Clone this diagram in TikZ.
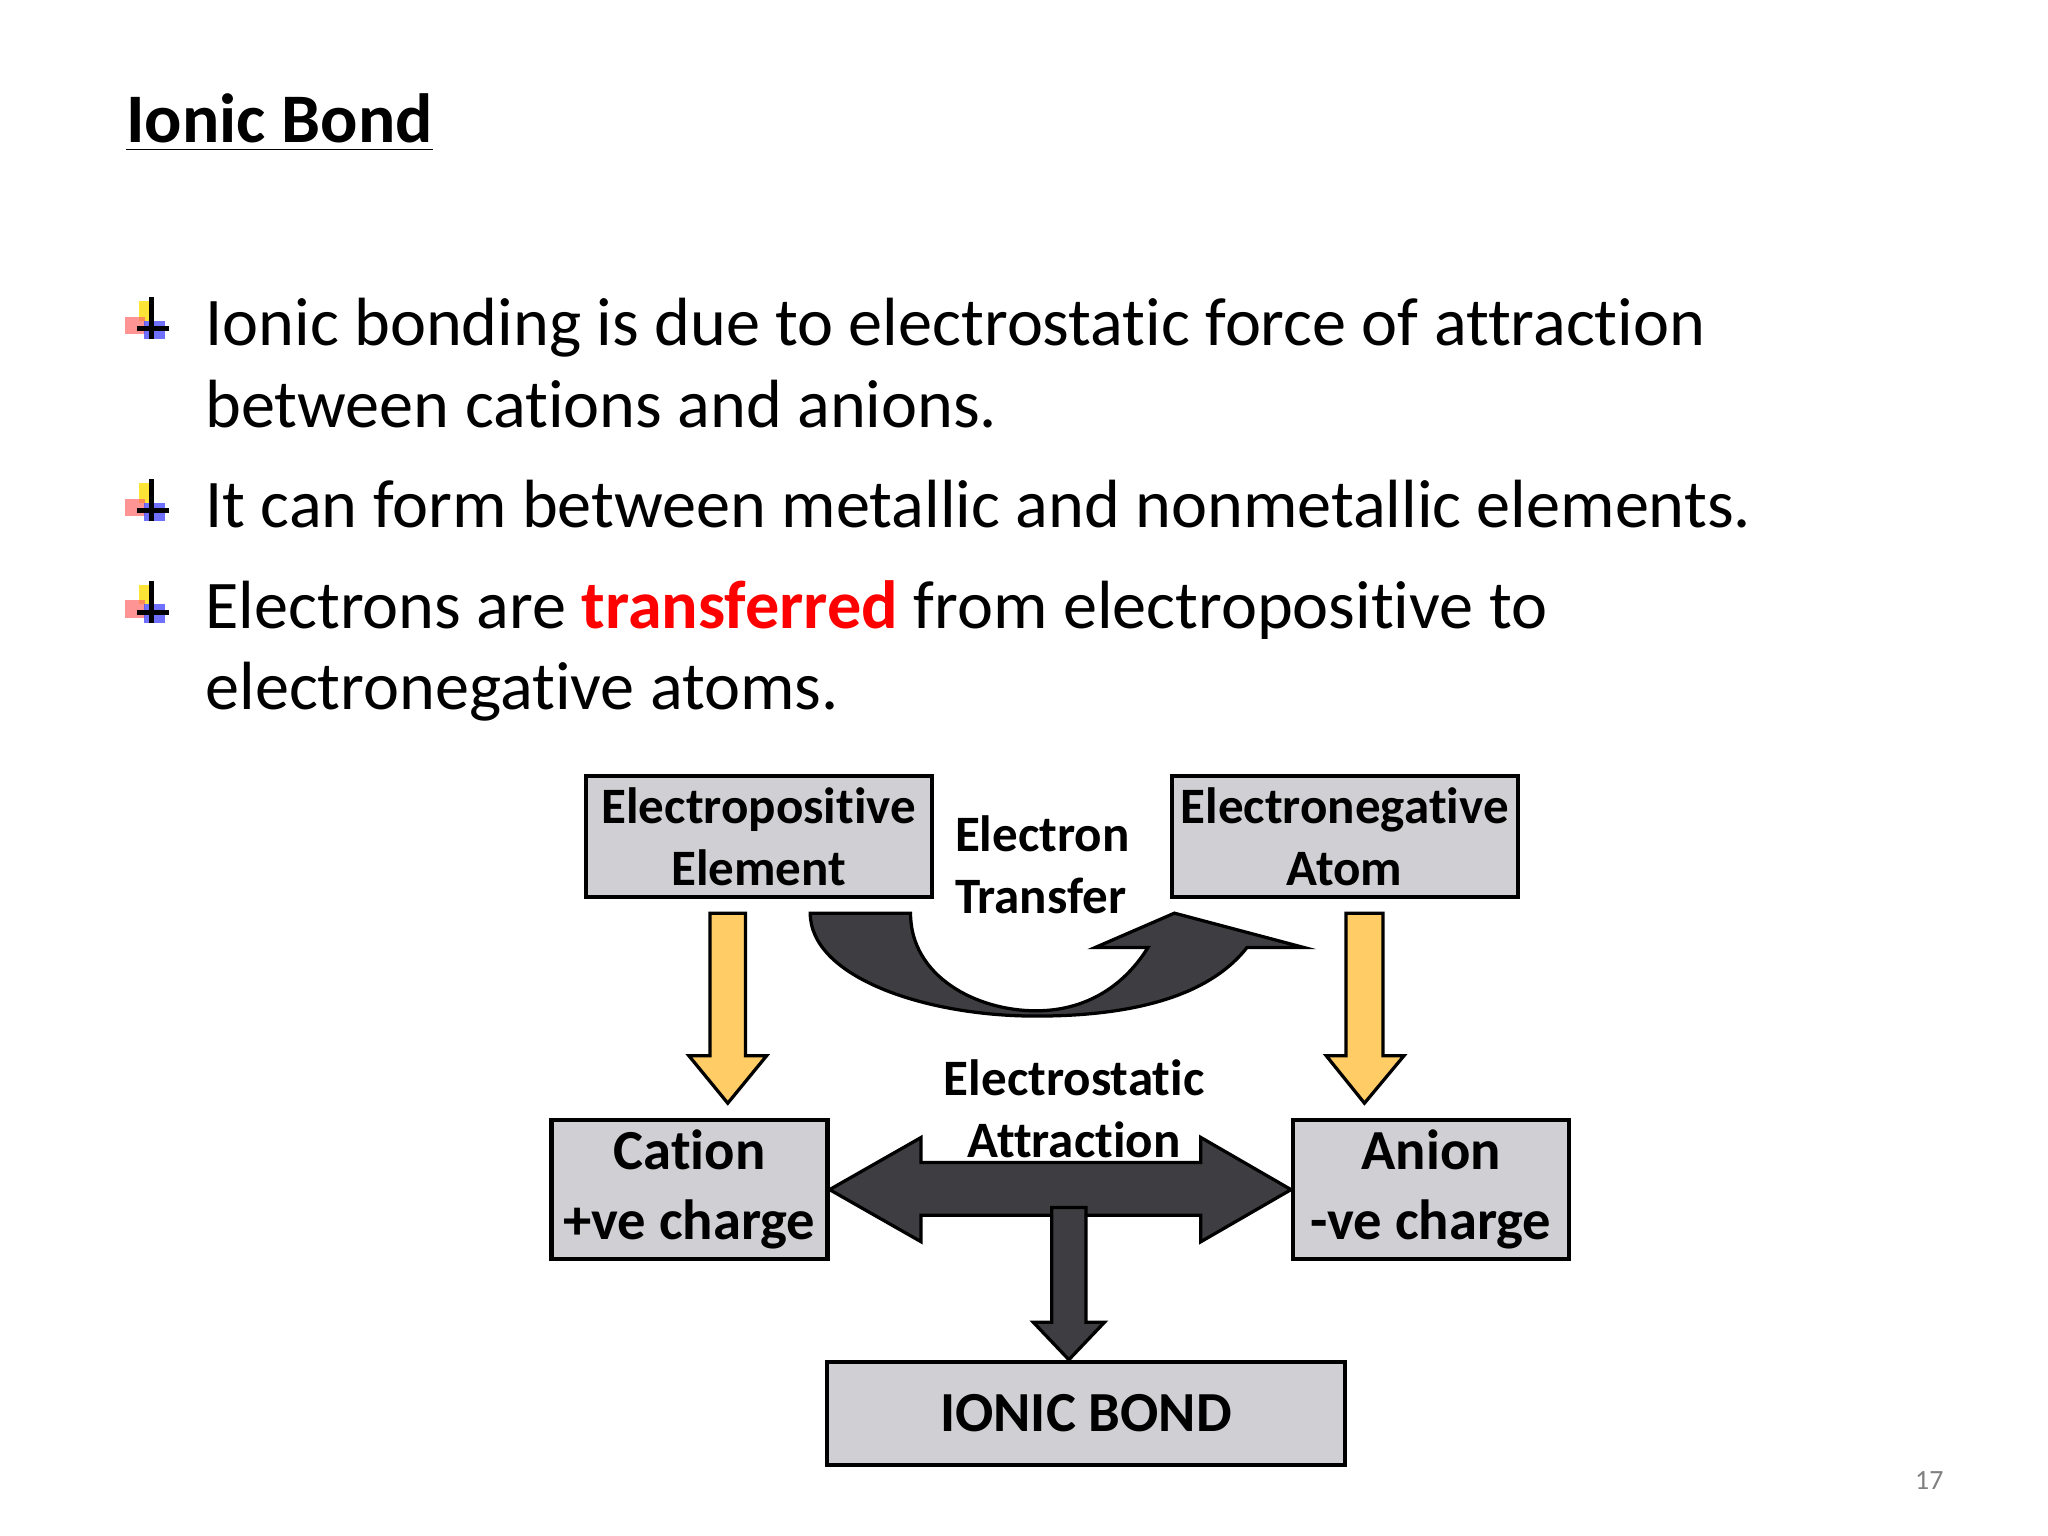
\documentclass[tikz,border=0pt]{standalone}
\usepackage{fontspec}
\setmainfont{Carlito}[RawFeature=-liga]
\begin{document}
\begin{tikzpicture}[x=0.01cm,y=-0.01cm,
 box/.style={draw=black,fill=boxgray,line width=0.9pt,font=\fontsize{11}{13.3}\selectfont\bfseries,align=center,inner sep=0pt},
 yarrow/.style={draw=black,fill=arrowyellow,line width=0.7pt},
 darrow/.style={draw=black,fill=darkarr,line width=0.7pt},
 lab/.style={inner sep=0pt,font=\fontsize{11}{13}\selectfont\bfseries},
 btext/.style={anchor=base west,font=\fontsize{14.7}{17}\selectfont,inner sep=0pt}]
\definecolor{boxgray}{HTML}{D0CFD3}
\definecolor{arrowyellow}{HTML}{FFCC66}
\definecolor{darkarr}{HTML}{3E3E42}
\useasboundingbox (0,0) rectangle (1552,1164);
\node[anchor=base west,inner sep=0pt,font=\fontsize{15}{18}\selectfont\bfseries] (title) at (95,108) {\underline{Ionic Bond}};
% bullets
\foreach \n/\yy in {b1/245,b2/383,b3/460}{
 \begin{scope}[shift={(100,\yy)}]
 \fill[yellow!80!orange,opacity=0.8] (5,-17) rectangle (17,-2);
 \fill[red!60,opacity=0.7] (-5,-5) rectangle (10,8);
 \fill[blue!70,opacity=0.8] (9,-2) rectangle (25,12);
 \draw[black,line width=1.1pt] (15,-20) -- (15,12) (4,4) -- (28,4);
 \coordinate (\n) at (0,0);
 \end{scope}}
\node[btext] (t1) at (155,262) {Ionic bonding is due to electrostatic force of attraction};
\node[btext] (t1b) at (155,324) {between cations and anions.};
\node[btext] (t2) at (155,400) {It can form between metallic and nonmetallic elements.};
\node[btext] (t3) at (155,476) {Electrons are {\bfseries\color{red}transferred} from electropositive to};
\node[btext] (t3b) at (155,538) {electronegative atoms.};
% boxes
\node[box,minimum width=2.62cm,minimum height=0.92cm] (ep) at (575,634) {Electropositive\\Element};
\node[box,minimum width=2.62cm,minimum height=0.92cm] (en) at (1019,634) {Electronegative\\Atom};
\node[box,minimum width=2.09cm,minimum height=1.05cm,font=\fontsize{12.2}{15}\selectfont\bfseries] (cat) at (522.5,901.5) {Cation\\+ve charge};
\node[box,minimum width=2.09cm,minimum height=1.05cm,font=\fontsize{12.2}{15}\selectfont\bfseries] (an) at (1084.5,901.5) {Anion\\-ve charge};
\node[box,minimum width=3.92cm,minimum height=0.78cm,font=\fontsize{12.2}{14}\selectfont\bfseries] (ib) at (823,1071) {IONIC BOND};
% yellow arrows
\draw[yarrow] (538,692) -- (565,692) -- (565,800) -- (581,800) -- (551.5,836) -- (522,800) -- (538,800) -- cycle;
\draw[yarrow] (1020,692) -- (1048,692) -- (1048,800) -- (1064,800) -- (1034,836) -- (1005,800) -- (1020,800) -- cycle;
% curved transfer arrow
\draw[darrow] (614,692) .. controls (614,740) and (700,770) .. (785,770) .. controls (870,770) and (920,750) .. (945,718) -- (988,718) -- (890,692) -- (830,718) -- (870,718) .. controls (850,750) and (820,766) .. (785,766) .. controls (740,766) and (690,740) .. (690,692) -- cycle;
\node[lab,anchor=base west] (et1) at (723,645) {Electron};
\node[lab,anchor=base west] (et2) at (723,692) {Transfer};
% double arrow
\draw[darrow] (cat.east) -- (698,862) -- (698,881) -- (910,881) -- (910,862) -- (an.west) -- (910,941) -- (910,921) -- (698,921) -- (698,941) -- cycle;
\draw[darrow] (797,915) -- (823,915) -- (823,1002) -- (837,1002) -- (ib.north -| 810,0) -- (783,1002) -- (797,1002) -- cycle;
\node[lab] (ea1) at (814,817) {Electrostatic};
\node[lab] (ea2) at (814,864) {Attraction};
\node[inner sep=0pt,text=gray,font=\fontsize{6}{7}\selectfont] (pg) at (1462,1122) {17};
\end{tikzpicture}
\end{document}
